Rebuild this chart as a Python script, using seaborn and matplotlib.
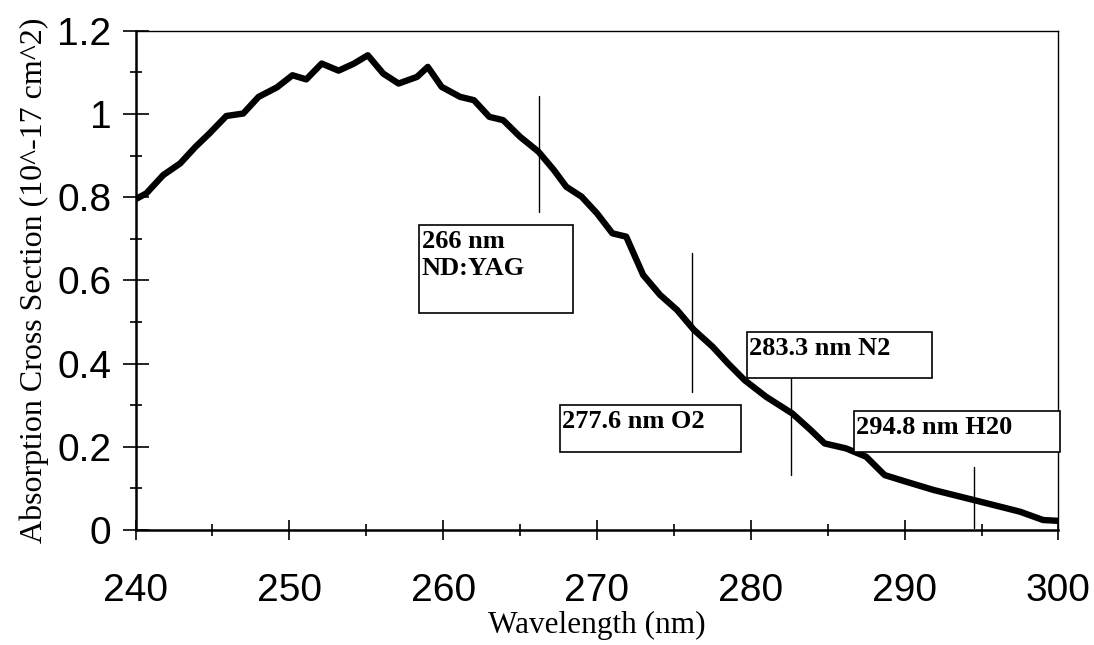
import matplotlib
matplotlib.use("Agg")
import matplotlib.pyplot as plt
from matplotlib.patches import Rectangle
from matplotlib.ticker import FixedLocator, MultipleLocator
import seaborn as sns
import pandas as pd

# ---- data ----
wavelength = [240.0, 240.7, 241.8, 242.9, 243.9, 244.8, 245.9, 247.0, 248.0, 249.2,
              250.2, 251.1, 252.1, 253.2, 254.2, 255.1, 256.1, 257.1, 258.3, 259.0,
              259.9, 261.1, 262.0, 263.0, 263.9, 265.0, 266.2, 267.2, 268.0, 269.0,
              270.0, 271.0, 271.9, 273.0, 274.1, 275.2, 276.3, 277.5, 278.5, 279.6,
              281.0, 282.7, 283.9, 284.8, 286.2, 287.5, 288.7, 290.1, 291.9, 294.5,
              297.5, 299.0, 300.0]
cross_section = [0.795, 0.809, 0.853, 0.881, 0.921, 0.953, 0.995, 1.001, 1.041, 1.064,
                 1.093, 1.083, 1.121, 1.104, 1.121, 1.141, 1.097, 1.073, 1.089, 1.113,
                 1.065, 1.041, 1.033, 0.993, 0.985, 0.945, 0.909, 0.865, 0.825, 0.801,
                 0.761, 0.713, 0.705, 0.613, 0.565, 0.529, 0.481, 0.441, 0.401, 0.360,
                 0.320, 0.280, 0.240, 0.208, 0.196, 0.176, 0.132, 0.116, 0.096, 0.072,
                 0.044, 0.024, 0.022]

x_ticks = [240, 250, 260, 270, 280, 290, 300]
x_tick_labels = ["240", "250", "260", "270", "280", "290", "300"]
y_ticks = [0, 0.2, 0.4, 0.6, 0.8, 1.0, 1.2]
y_tick_labels = ["0", "0.2", "0.4", "0.6", "0.8", "1", "1.2"]

marker_labels = ["266 nm\nND:YAG", "277.6 nm O2", "283.3 nm N2", "294.8 nm H20"]
marker_x = [266.2, 276.2, 282.6, 294.5]
marker_y0 = [0.765, 0.332, 0.132, 0.004]
marker_y1 = [1.043, 0.665, 0.378, 0.152]
# label boxes (x0, x1, y0, y1) in data units
box_x0 = [258.45, 267.6, 279.73, 286.71]
box_x1 = [268.42, 279.36, 291.76, 300.1]
box_y0 = [0.522, 0.187, 0.365, 0.188]
box_y1 = [0.733, 0.300, 0.477, 0.286]

df = pd.DataFrame({"Wavelength": wavelength, "Cross": cross_section})

sns.set_theme(style="white")
plt.rcParams["font.family"] = ["Liberation Sans", "DejaVu Sans"]
plt.rcParams["text.color"] = "black"
plt.rcParams["axes.labelcolor"] = "black"
plt.rcParams["xtick.color"] = "black"
plt.rcParams["ytick.color"] = "black"

fig = plt.figure(figsize=(10.94, 6.45), dpi=100)
ax = fig.add_axes([0.1239, 0.1783, 0.8436, 0.7741])

sns.lineplot(data=df, x="Wavelength", y="Cross", ax=ax, color="black",
             linewidth=4.6, solid_joinstyle="round", solid_capstyle="round",
             zorder=3)

ax.set_xlim(240, 300)
ax.set_ylim(0, 1.2)

ax.xaxis.set_major_locator(FixedLocator(x_ticks))
ax.set_xticklabels(x_tick_labels)
ax.xaxis.set_minor_locator(MultipleLocator(5))
ax.yaxis.set_major_locator(FixedLocator(y_ticks))
ax.set_yticklabels(y_tick_labels)
ax.yaxis.set_minor_locator(MultipleLocator(0.1))

ax.tick_params(axis="both", which="both", direction="inout", color="black",
               labelcolor="black", bottom=True, left=True, top=False, right=False)
ax.tick_params(axis="x", which="major", length=14, width=1.2, labelsize=28, pad=24)
ax.tick_params(axis="x", which="minor", length=9, width=1.2)
ax.tick_params(axis="y", which="major", length=19, width=1.2, labelsize=28, pad=8)
ax.tick_params(axis="y", which="minor", length=9, width=1.2)

for s in ["left", "bottom"]:
    ax.spines[s].set_linewidth(1.8)
    ax.spines[s].set_color("black")
for s in ["top", "right"]:
    ax.spines[s].set_linewidth(1.0)
    ax.spines[s].set_color("black")

serif = ["Liberation Serif", "DejaVu Serif"]
ax.set_xlabel("Wavelength (nm)", fontsize=22.5, family=serif, labelpad=1,
              color="black")
ax.set_ylabel("Absorption Cross Section (10^-17 cm^2)", fontsize=23,
              family=serif, labelpad=6, color="black")

for i, lab in enumerate(marker_labels):
    ax.plot([marker_x[i], marker_x[i]], [marker_y0[i], marker_y1[i]],
            color="black", linewidth=1.0, zorder=4)
    ax.add_patch(Rectangle((box_x0[i], box_y0[i]), box_x1[i] - box_x0[i],
                           box_y1[i] - box_y0[i], facecolor="white",
                           edgecolor="black", linewidth=1.2, zorder=5,
                           clip_on=False))
    ty = box_y1[i] - 0.012
    ax.text(box_x0[i] + 0.15, ty, lab, family=serif, fontweight="bold",
            fontsize=19, ha="left", va="top", zorder=6, linespacing=1.2,
            color="black")

fig.savefig("out.png", dpi=100)
